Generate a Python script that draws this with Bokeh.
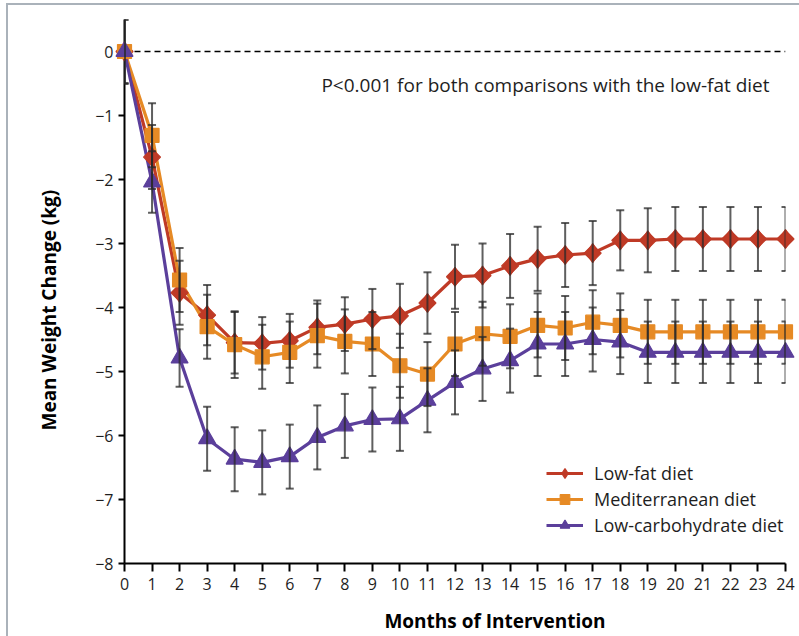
import math
from bokeh.plotting import figure
from bokeh.models import (Range1d, Whisker, TeeHead, Span, Label, Legend, LegendItem,
                          ColumnDataSource, FixedTicker, Title, LinearAxis)
from bokeh.embed import file_html
from bokeh.resources import INLINE

# ---- data ----
months = [0, 1, 2, 3, 4, 5, 6, 7, 8, 9, 10, 11, 12, 13, 14, 15, 16, 17, 18, 19, 20, 21, 22, 23, 24]

low_fat = [0.0, -1.65, -3.77, -4.12, -4.55, -4.56, -4.52, -4.31, -4.26, -4.18, -4.13, -3.93,
           -3.52, -3.50, -3.35, -3.24, -3.18, -3.15, -2.95, -2.95, -2.93, -2.93, -2.93, -2.93, -2.93]
low_fat_err = [0.5, 0.5, 0.5, 0.47, 0.48, 0.41, 0.42, 0.42, 0.42, 0.47, 0.5, 0.48,
               0.5, 0.5, 0.5, 0.5, 0.5, 0.5, 0.47, 0.5, 0.5, 0.5, 0.5, 0.5, 0.5]

mediterranean = [0.0, -1.31, -3.57, -4.30, -4.58, -4.77, -4.70, -4.44, -4.53, -4.57, -4.91, -5.04,
                 -4.57, -4.41, -4.45, -4.28, -4.32, -4.23, -4.28, -4.38, -4.38, -4.38, -4.38, -4.38, -4.38]
mediterranean_err = [0.5, 0.5, 0.5, 0.5, 0.52, 0.5, 0.48, 0.5, 0.5, 0.5, 0.5, 0.5,
                     0.5, 0.5, 0.5, 0.5, 0.5, 0.5, 0.5, 0.5, 0.5, 0.5, 0.5, 0.5, 0.5]

low_carb = [0.0, -2.04, -4.79, -6.05, -6.37, -6.42, -6.33, -6.03, -5.85, -5.75, -5.74, -5.45,
            -5.17, -4.96, -4.83, -4.57, -4.57, -4.50, -4.54, -4.70, -4.70, -4.70, -4.70, -4.70, -4.70]
low_carb_err = [0.5, 0.48, 0.45, 0.5, 0.5, 0.5, 0.5, 0.5, 0.5, 0.5, 0.5, 0.5,
                0.5, 0.5, 0.5, 0.5, 0.5, 0.5, 0.5, 0.48, 0.48, 0.48, 0.48, 0.48, 0.48]

y_ticks = [0, -1, -2, -3, -4, -5, -6, -7, -8]
y_tick_labels = ["0", "\u22121", "\u22122", "\u22123", "\u22124", "\u22125", "\u22126", "\u22127", "\u22128"]

series_names = ["Low-fat diet", "Mediterranean diet", "Low-carbohydrate diet"]
p_text = "P<0.001 for both comparisons with the low-fat diet"
x_title = "Months of Intervention"
x_title_center = 13.45   # month position under which the x title is centred
y_title = "Mean Weight Change (kg)"

# ---- style ----
FONT = "Open Sans"
RED = "#BF3A26"
ORANGE = "#E68A25"
PURPLE = "#5B3F9B"
TEXT = "#1e1e1e"
FRAME_GRAY = "#aab2ba"

p = figure(width=799, height=636, output_backend="svg", toolbar_location=None,
           x_range=Range1d(0, 24), y_range=Range1d(-8, 0.5),
           min_border_left=124, min_border_right=14, min_border_top=19, min_border_bottom=73,
           styles={"box-shadow": f"inset 6px 3px 0 0 #ffffff, inset 8px 5px 0 0 {FRAME_GRAY}",
                   "background-color": "white"})
p.grid.visible = False
p.outline_line_color = None
p.background_fill_color = "white"
p.border_fill_alpha = 0

# axes
p.xaxis.ticker = FixedTicker(ticks=months)
p.yaxis.ticker = FixedTicker(ticks=y_ticks)
p.yaxis.major_label_overrides = {t: l for t, l in zip(y_ticks, y_tick_labels)}
for ax in (p.xaxis[0], p.yaxis[0]):
    ax.axis_line_width = 2
    ax.axis_line_color = "black"
    ax.major_tick_line_width = 2
    ax.major_tick_line_color = "black"
    ax.major_tick_in = 0
    ax.minor_tick_line_color = None
    ax.major_label_text_font = FONT
    ax.major_label_text_font_size = "16px"
    ax.major_label_text_color = TEXT
p.xaxis.major_tick_out = 8
p.xaxis.major_label_standoff = 6
p.yaxis.major_tick_out = 6
p.yaxis.major_label_standoff = 5

# x title: a second, bare axis whose single tick label is the title
title_axis = LinearAxis(ticker=FixedTicker(ticks=[x_title_center]),
                        major_label_overrides={x_title_center: x_title},
                        axis_line_color=None, major_tick_line_color=None,
                        minor_tick_line_color=None, major_tick_in=0, major_tick_out=0,
                        major_label_standoff=15, major_label_text_font=FONT,
                        major_label_text_font_size="19px", major_label_text_font_style="bold",
                        major_label_text_color="black")
p.add_layout(title_axis, "below")

# y title
p.add_layout(Title(text=y_title, align="left", offset=133, standoff=62,
                   text_font=FONT, text_font_size="19px", text_font_style="bold",
                   text_color="black"), "left")

# zero reference line
p.add_layout(Span(location=0, dimension="width", line_color="black", line_width=1.6,
                  line_dash="6 4"))

series = [
    (low_fat, low_fat_err, RED, "square", 12, math.pi / 4),
    (mediterranean, mediterranean_err, ORANGE, "square", 14, 0.0),
    (low_carb, low_carb_err, PURPLE, "triangle", 17, 0.0),
]

sources = []
for vals, errs, color, marker, size, ang in series:
    src = ColumnDataSource(dict(x=months, y=vals,
                                upper=[v + e for v, e in zip(vals, errs)],
                                lower=[v - e for v, e in zip(vals, errs)]))
    sources.append(src)
    w = Whisker(source=src, base="x", upper="upper", lower="lower", dimension="height",
                line_color="#2a2a2a", line_alpha=0.75, line_width=2,
                upper_head=TeeHead(size=8, line_color="#2a2a2a", line_alpha=0.75, line_width=2),
                lower_head=TeeHead(size=8, line_color="#2a2a2a", line_alpha=0.75, line_width=2),
                level="overlay")
    p.add_layout(w)

line_renderers = []
for src, (vals, errs, color, marker, size, ang) in zip(sources, series):
    r = p.line("x", "y", source=src, line_color=color, line_width=3.2)
    r.level = "overlay"
    line_renderers.append(r)

marker_renderers = []
for i, (src, (vals, errs, color, marker, size, ang)) in enumerate(zip(sources, series)):
    if i == 0:
        # low-fat diamonds: a tall diamond under a rotated square gives the wide diamond shape
        d = p.scatter("x", "y", source=src, marker="diamond", size=19,
                      fill_color=color, line_color=color, line_width=1.2)
        d.level = "overlay"
        legend_diamond = d
    r = p.scatter("x", "y", source=src, marker=marker, size=size, angle=ang,
                  fill_color=color, line_color=color, line_width=1.2)
    r.level = "overlay"
    marker_renderers.append(r)

legend_markers = [legend_diamond, marker_renderers[1], marker_renderers[2]]

legend = Legend(items=[LegendItem(label=n, renderers=[l, m])
                       for n, l, m in zip(series_names, line_renderers, legend_markers)],
                location=(422, 26), padding=0, margin=0, spacing=2,
                glyph_width=37, glyph_height=24, label_standoff=11,
                label_text_font=FONT, label_text_font_size="18px", label_text_color=TEXT,
                border_line_alpha=0, background_fill_alpha=0)
p.add_layout(legend)

p.add_layout(Label(x=23.42, y=-0.52, text=p_text, text_align="right", text_baseline="middle",
                   text_font=FONT, text_font_size="19px", text_color=TEXT, level="overlay"))

open("out.html", "w").write(file_html(p, INLINE))
